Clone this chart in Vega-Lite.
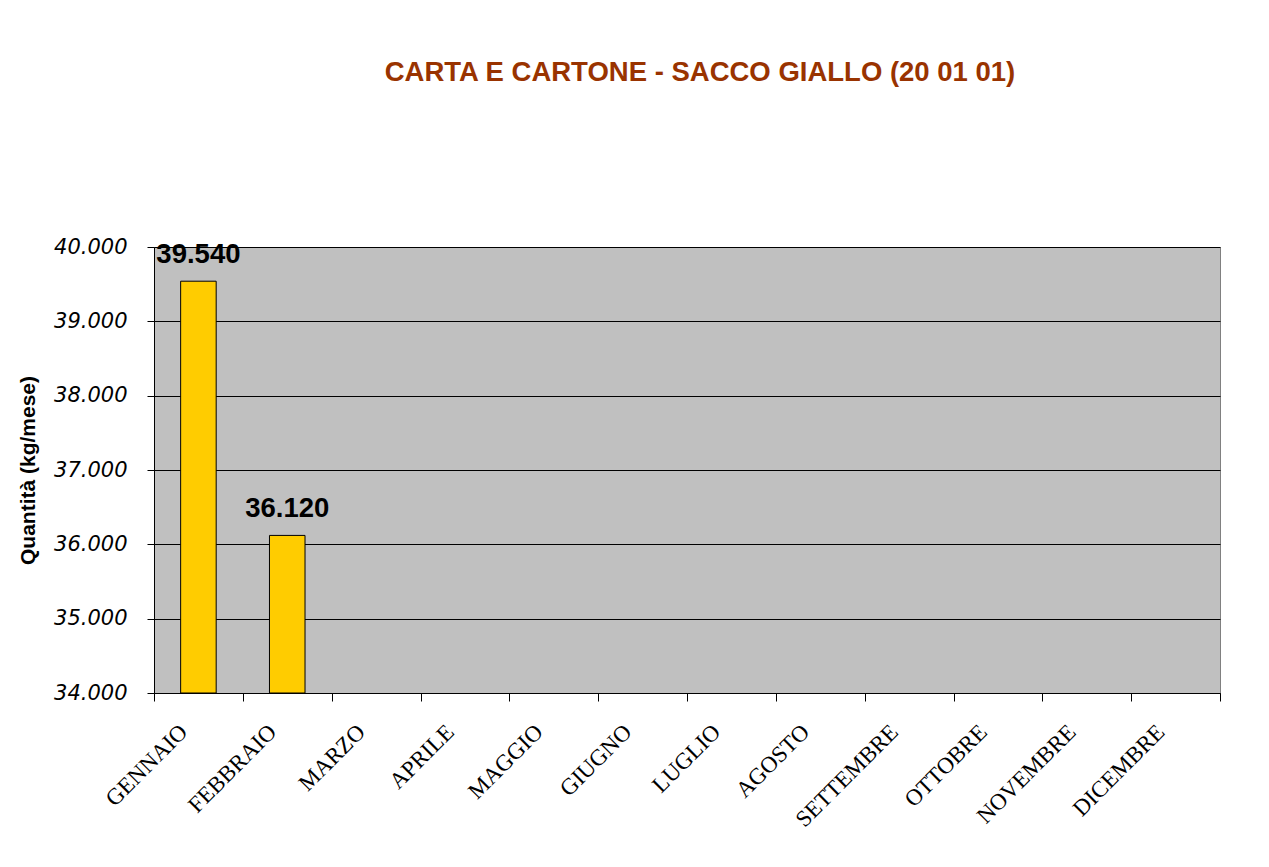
{
  "$schema": "https://vega.github.io/schema/vega-lite/v6.json",
  "autosize": {"type": "none"},
  "width": 1066,
  "height": 446,
  "padding": {"left": 154, "top": 247, "right": 49, "bottom": 174},
  "background": "white",
  "config": {
    "locale": {"number": {"decimal": ",", "thousands": ".", "grouping": [3], "currency": ["€", ""]}},
    "view": {"fill": "#C0C0C0", "stroke": "#808080", "strokeWidth": 1}
  },
  "title": {
    "text": "CARTA E CARTONE - SACCO GIALLO (20 01 01)",
    "font": "Liberation Sans",
    "fontSize": 27.5,
    "fontWeight": "bold",
    "color": "#993300",
    "anchor": "middle",
    "offset": 150,
    "dx": 13
  },
  "data": {
    "values": [
      {"mese": "GENNAIO", "kg": 39540},
      {"mese": "FEBBRAIO", "kg": 36120},
      {"mese": "MARZO", "kg": null},
      {"mese": "APRILE", "kg": null},
      {"mese": "MAGGIO", "kg": null},
      {"mese": "GIUGNO", "kg": null},
      {"mese": "LUGLIO", "kg": null},
      {"mese": "AGOSTO", "kg": null},
      {"mese": "SETTEMBRE", "kg": null},
      {"mese": "OTTOBRE", "kg": null},
      {"mese": "NOVEMBRE", "kg": null},
      {"mese": "DICEMBRE", "kg": null}
    ]
  },
  "encoding": {
    "x": {
      "field": "mese",
      "type": "nominal",
      "sort": null,
      "scale": {
        "domain": ["GENNAIO", "FEBBRAIO", "MARZO", "APRILE", "MAGGIO", "GIUGNO", "LUGLIO", "AGOSTO", "SETTEMBRE", "OTTOBRE", "NOVEMBRE", "DICEMBRE"],
        "paddingInner": 0,
        "paddingOuter": 0
      },
      "axis": {
        "title": null,
        "tickBand": "extent",
        "labelAngle": -45,
        "labelAlign": "right",
        "labelBaseline": "middle",
        "labelPadding": 27,
        "labelOffset": -15,
        "labelFont": "Liberation Serif",
        "labelFontSize": 23,
        "labelColor": "black",
        "domainColor": "black",
        "tickColor": "black",
        "tickSize": 8,
        "grid": false
      }
    }
  },
  "layer": [
    {
      "mark": {"type": "bar", "fill": "#FFCC00", "stroke": "black", "strokeWidth": 1, "width": {"band": 0.4}},
      "encoding": {
        "y": {
          "field": "kg",
          "type": "quantitative",
          "scale": {"domain": [34000, 40000], "zero": false, "nice": false},
          "axis": {
            "title": "Quantità (kg/mese)",
            "titleFont": "Liberation Sans",
            "titleFontSize": 21,
            "titleFontWeight": "bold",
            "titleColor": "black",
            "titlePadding": 15,
            "values": [34000, 35000, 36000, 37000, 38000, 39000, 40000],
            "format": ",.0f",
            "labelFont": "DejaVu Sans",
            "labelFontStyle": "italic",
            "labelFontSize": 21,
            "labelColor": "black",
            "labelPadding": 20,
            "tickSize": 7,
            "tickColor": "black",
            "domainColor": "black",
            "grid": true,
            "gridColor": "black",
            "gridOpacity": 1
          }
        },
        "y2": {"datum": 34000}
      }
    },
    {
      "mark": {"type": "text", "baseline": "alphabetic", "dy": -18, "font": "Liberation Sans", "fontSize": 27.5, "fontWeight": "bold", "color": "black"},
      "encoding": {
        "y": {"field": "kg", "type": "quantitative"},
        "text": {"field": "kg", "type": "quantitative", "format": ",.0f"}
      }
    }
  ]
}
